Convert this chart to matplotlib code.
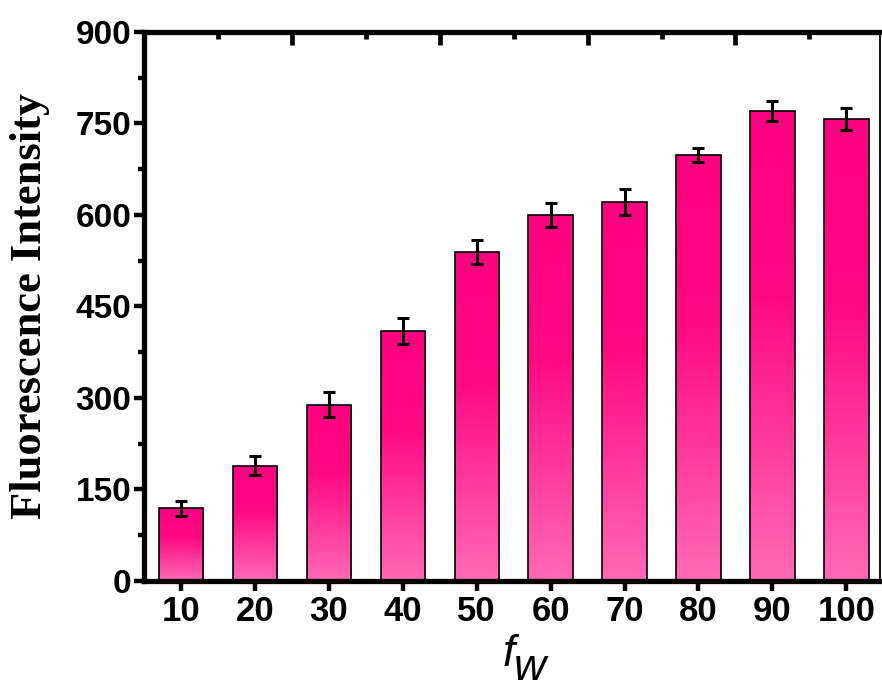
import numpy as np
import matplotlib
matplotlib.use('Agg')
import matplotlib.pyplot as plt
from matplotlib.colors import LinearSegmentedColormap
from matplotlib.ticker import MultipleLocator, FixedLocator

# water fraction vs fluorescence intensity
fw = [10, 20, 30, 40, 50, 60, 70, 80, 90, 100]
intensity = [119, 189, 289, 410, 539, 600, 621, 698, 770, 757]
err = [12, 15, 20, 21, 20, 20, 21, 12, 16, 18]

plt.rcParams['font.family'] = 'Liberation Sans'
plt.rcParams['font.weight'] = 'bold'

fig = plt.figure(figsize=(8.82, 6.9), dpi=100)
ax = fig.add_axes([0.1633, 0.158, 0.834, 0.796])

# pink gradient: light at the base, deep pink toward the top
cmap = LinearSegmentedColormap.from_list(
    'pink', [(0.0, '#FF6AB5'), (0.6, '#FF0A84'), (1.0, '#FF0080')])
grad = np.linspace(0, 1, 256).reshape(-1, 1)

bars = ax.bar(fw, intensity, width=6, facecolor='none', edgecolor='black',
              linewidth=1.2, zorder=3)
for b in bars:
    x0, y0 = b.get_x(), b.get_y()
    w, h = b.get_width(), b.get_height()
    im = ax.imshow(grad, cmap=cmap, aspect='auto', origin='lower',
                   extent=[x0, x0 + w, y0, y0 + h], zorder=2)
    im.set_clip_path(b)

ax.errorbar(fw, intensity, yerr=err, fmt='none', ecolor='black',
            elinewidth=2.2, capsize=4.5, capthick=2.2, zorder=4)

ax.set_xlim(5, 104.5)
ax.set_ylim(0, 900)

ax.set_xticks(fw)
ax.set_xticklabels([str(v) for v in fw])
ax.yaxis.set_major_locator(MultipleLocator(150))
ax.yaxis.set_minor_locator(MultipleLocator(75))

for side in ['left', 'bottom', 'top']:
    ax.spines[side].set_linewidth(3.8)
ax.spines['right'].set_linewidth(1.3)

ax.tick_params(axis='both', which='major', labelsize=24, width=3.2,
               length=7, direction='out', pad=2)
ax.tick_params(axis='x', which='major', labelsize=25, pad=3)
ax.tick_params(axis='y', which='minor', width=3.2, length=4, direction='out')
ax.tick_params(axis='x', which='minor', bottom=False)

# inward ticks along the top edge, offset between bars
top = ax.secondary_xaxis('top')
top.xaxis.set_major_locator(FixedLocator([25, 45, 65, 85]))
top.xaxis.set_minor_locator(FixedLocator([15, 35, 55, 75, 95]))
top.tick_params(which='major', direction='in', length=9, width=3.4,
                labeltop=False)
top.tick_params(which='minor', direction='in', length=5, width=3.4)
top.spines['top'].set_visible(False)

for t in ax.get_xticklabels() + ax.get_yticklabels():
    t.set_fontweight('bold')

ax.set_ylabel('Fluorescence Intensity', fontfamily='Liberation Serif',
              fontweight='bold', fontsize=32)
ax.yaxis.set_label_coords(-0.128, 0.5)

fig.text(503 / 882, 1 - 666 / 690, 'f', fontsize=32, style='italic',
         fontweight='normal', va='baseline', ha='left')
fig.text(514 / 882, 1 - 680 / 690, 'w', fontsize=32, style='italic',
         fontweight='normal', va='baseline', ha='left')

fig.savefig('out.png', dpi=100)
